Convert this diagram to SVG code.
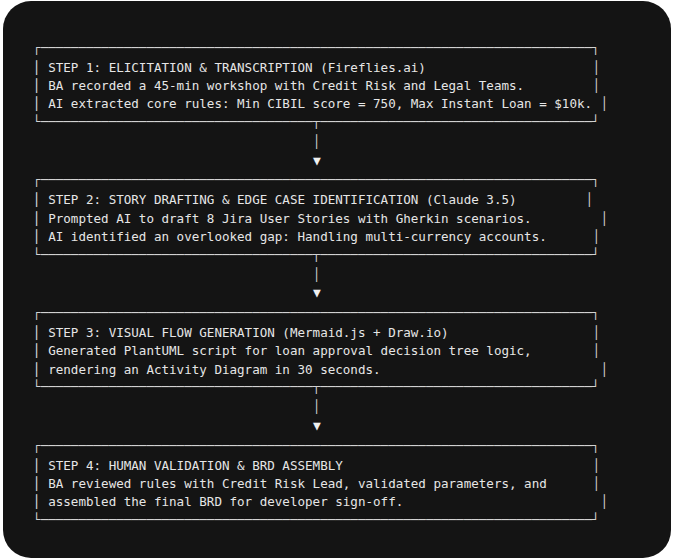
<svg xmlns="http://www.w3.org/2000/svg" width="676" height="559" viewBox="0 0 676 559">
<style>
.t{font-family:"DejaVu Sans Mono","Liberation Mono",monospace;font-size:12.565px;fill:#e6e6e6;white-space:pre}
.b{font-family:"DejaVu Sans Mono","Liberation Mono",monospace;font-size:12.565px;fill:#d2d2d2;white-space:pre}
.r{font-family:"DejaVu Sans Mono","Liberation Mono",monospace;font-size:12.565px;fill:#d2d2d2;text-anchor:middle}
.c{font-family:"DejaVu Sans Mono","Liberation Mono",monospace;font-size:12.565px;fill:#d2d2d2;text-anchor:middle}
.a{font-family:"DejaVu Sans Mono","Liberation Mono",monospace;font-size:13px;fill:#f0f0f0;text-anchor:middle}
</style>
<rect x="0" y="0" width="676" height="559" fill="#ffffff"/>
<rect x="3" y="1" width="668" height="557" rx="28" ry="28" fill="#141414"/>
<g id="step1">
<text class="b" x="33.1" y="51.6" xml:space="preserve">┌─────────────────────────────────────────────────────────────────────────┐</text>
<text class="t" x="33.1" y="71.6" xml:space="preserve">│ STEP 1: ELICITATION &amp; TRANSCRIPTION (Fireflies.ai)</text>
<text class="r" x="596.5" y="71.6">│</text>
<text class="t" x="33.1" y="90.0" xml:space="preserve">│ BA recorded a 45-min workshop with Credit Risk and Legal Teams.</text>
<text class="r" x="596.5" y="90.0">│</text>
<text class="t" x="33.1" y="108.4" xml:space="preserve">│ AI extracted core rules: Min CIBIL score = 750, Max Instant Loan = $10k.</text>
<text class="r" x="604.5" y="108.4">│</text>
<text class="b" x="33.1" y="126.0" xml:space="preserve">└────────────────────────────────────┬────────────────────────────────────┘</text>
</g>
<g id="step2">
<text class="b" x="33.1" y="184.3" xml:space="preserve">┌─────────────────────────────────────────────────────────────────────────┐</text>
<text class="t" x="33.1" y="204.3" xml:space="preserve">│ STEP 2: STORY DRAFTING &amp; EDGE CASE IDENTIFICATION (Claude 3.5)</text>
<text class="r" x="589.5" y="204.3">│</text>
<text class="t" x="33.1" y="222.7" xml:space="preserve">│ Prompted AI to draft 8 Jira User Stories with Gherkin scenarios.</text>
<text class="r" x="604.5" y="222.7">│</text>
<text class="t" x="33.1" y="241.1" xml:space="preserve">│ AI identified an overlooked gap: Handling multi-currency accounts.</text>
<text class="r" x="596.5" y="241.1">│</text>
<text class="b" x="33.1" y="258.7" xml:space="preserve">└────────────────────────────────────┬────────────────────────────────────┘</text>
</g>
<g id="step3">
<text class="b" x="33.1" y="317.0" xml:space="preserve">┌─────────────────────────────────────────────────────────────────────────┐</text>
<text class="t" x="33.1" y="337.0" xml:space="preserve">│ STEP 3: VISUAL FLOW GENERATION (Mermaid.js + Draw.io)</text>
<text class="r" x="596.5" y="337.0">│</text>
<text class="t" x="33.1" y="355.4" xml:space="preserve">│ Generated PlantUML script for loan approval decision tree logic,</text>
<text class="r" x="596.5" y="355.4">│</text>
<text class="t" x="33.1" y="373.8" xml:space="preserve">│ rendering an Activity Diagram in 30 seconds.</text>
<text class="r" x="604.5" y="373.8">│</text>
<text class="b" x="33.1" y="391.4" xml:space="preserve">└────────────────────────────────────┬────────────────────────────────────┘</text>
</g>
<g id="step4">
<text class="b" x="33.1" y="449.6" xml:space="preserve">┌─────────────────────────────────────────────────────────────────────────┐</text>
<text class="t" x="33.1" y="469.6" xml:space="preserve">│ STEP 4: HUMAN VALIDATION &amp; BRD ASSEMBLY</text>
<text class="r" x="596.5" y="469.6">│</text>
<text class="t" x="33.1" y="488.0" xml:space="preserve">│ BA reviewed rules with Credit Risk Lead, validated parameters, and</text>
<text class="r" x="596.5" y="488.0">│</text>
<text class="t" x="33.1" y="506.4" xml:space="preserve">│ assembled the final BRD for developer sign-off.</text>
<text class="r" x="604.5" y="506.4">│</text>
<text class="b" x="33.1" y="524.0" xml:space="preserve">└─────────────────────────────────────────────────────────────────────────┘</text>
</g>
<g id="connectors">
<text class="c" x="316.8" y="146.0">│</text>
<text class="a" x="316.8" y="164.5">▼</text>
<text class="c" x="316.8" y="278.7">│</text>
<text class="a" x="316.8" y="297.2">▼</text>
<text class="c" x="316.8" y="411.4">│</text>
<text class="a" x="316.8" y="429.9">▼</text>
</g>
</svg>
